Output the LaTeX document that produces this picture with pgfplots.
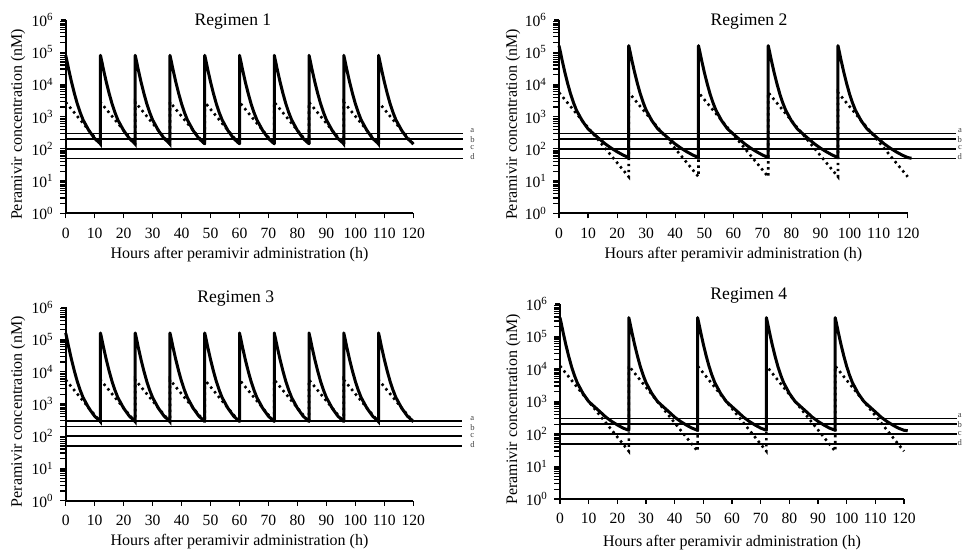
\documentclass[border=0pt]{standalone}
\usepackage{fontspec}
\setmainfont{Liberation Serif}
\usepackage{pgfplots}
\pgfplotsset{compat=1.18}

% 1 px of the reference = 0.5pt
\tikzset{
  conc/.style={black, line width=1.5pt, line join=round},
  lung/.style={black, line width=1.3pt, dash pattern=on 1.2pt off 1.8pt},
  thr/.style={black, line width=0.8pt},
  abcd/.style={font=\fontsize{4.3}{4.3}\selectfont, anchor=west, inner sep=0pt, text=black!75},
}

\begin{document}
\begin{tikzpicture}

% ---------------- Regimen 1 ----------------
\begin{axis}[scale only axis, anchor=south west, at={(32.85pt,168.85pt)}, width=173.8pt, height=96.65pt,
    ymode=log, xmin=0, xmax=120, ymin=1, ymax=1e6,
    axis lines*=left, axis line style={line width=1pt},
    xtick pos=left, ytick pos=left, clip=false, tick align=outside,
    major tick length=2.5pt,
    tick style={black, line width=0.6pt},
    xtick={0,10,...,120},
    ytick={1,10,100,1000,10000,100000,1000000},
    yticklabels={10\textsuperscript{0},10\textsuperscript{1},10\textsuperscript{2},10\textsuperscript{3},10\textsuperscript{4},10\textsuperscript{5},10\textsuperscript{6}},
    extra y ticks={2,3,4,5,6,7,8,9,20,30,40,50,60,70,80,90,200,300,400,500,600,700,800,900,2000,3000,4000,5000,6000,7000,8000,9000,20000,30000,40000,50000,60000,70000,80000,90000,200000,300000,400000,500000,600000,700000,800000,900000},
    extra y tick labels={},
    extra y tick style={major tick length=1.6pt, tick style={black, line width=0.5pt}},
    /pgf/number format/assume math mode=true,
    tick label style={font=\fontsize{7.8}{9}\selectfont},
    xticklabel style={yshift=-1.2pt},
    label style={font=\fontsize{8}{9.5}\selectfont},
    xlabel={Hours after peramivir administration (h)},
    ylabel={Peramivir concentration (nM)},
    xlabel style={at={(axis description cs:0.5,-0.212)}, anchor=center},
    ylabel style={at={(axis description cs:-0.137,0.46)}, anchor=center},
    title={Regimen 1}, every axis title shift=0pt,
    title style={font=\fontsize{8.8}{10}\selectfont, anchor=center, at={(axis description cs:0.481,1)}, yshift=-1pt}]
\addplot[thr] coordinates {(0,300)(137,300)};
\addplot[thr] coordinates {(0,200)(137,200)};
\addplot[thr] coordinates {(0,100)(137,100)};
\addplot[thr] coordinates {(0,50)(137,50)};
\addplot[lung] coordinates {
  (0,2810)(12,138)(12,2810)(24,138)(24,2810)(36,138)(36,2810)(48,138)(48,2810)(60,138)
  (60,2810)(72,138)(72,2810)(84,138)(84,2810)(96,138)(96,2810)(108,138)(108,2810)(120,138)};
\addplot[conc] coordinates {
  (0,80000)(0.5,50000)(1,30150)(2,12000)(3,5250)(4,2505)(5,1345)(6,793)(8,371)(10,209)(12,144)
  (12,80000)(12.5,50000)(13,30150)(14,12000)(15,5250)(16,2505)(17,1345)(18,793)(20,371)(22,209)(24,144)
  (24,80000)(24.5,50000)(25,30150)(26,12000)(27,5250)(28,2505)(29,1345)(30,793)(32,371)(34,209)(36,144)
  (36,80000)(36.5,50000)(37,30150)(38,12000)(39,5250)(40,2505)(41,1345)(42,793)(44,371)(46,209)(48,144)
  (48,80000)(48.5,50000)(49,30150)(50,12000)(51,5250)(52,2505)(53,1345)(54,793)(56,371)(58,209)(60,144)
  (60,80000)(60.5,50000)(61,30150)(62,12000)(63,5250)(64,2505)(65,1345)(66,793)(68,371)(70,209)(72,144)
  (72,80000)(72.5,50000)(73,30150)(74,12000)(75,5250)(76,2505)(77,1345)(78,793)(80,371)(82,209)(84,144)
  (84,80000)(84.5,50000)(85,30150)(86,12000)(87,5250)(88,2505)(89,1345)(90,793)(92,371)(94,209)(96,144)
  (96,80000)(96.5,50000)(97,30150)(98,12000)(99,5250)(100,2505)(101,1345)(102,793)(104,371)(106,209)(108,144)
  (108,80000)(108.5,50000)(109,30150)(110,12000)(111,5250)(112,2505)(113,1345)(114,793)(116,371)(118,209)(120,144)};
\node[abcd] at (axis cs:139.6,360) {a};
\node[abcd] at (axis cs:139.6,190) {b};
\node[abcd] at (axis cs:139.6,107) {c};
\node[abcd] at (axis cs:139.6,56) {d};
\end{axis}

% ---------------- Regimen 2 ----------------
\begin{axis}[scale only axis, anchor=south west, at={(279.5pt,168.85pt)}, width=174.35pt, height=96.65pt,
    ymode=log, xmin=0, xmax=120, ymin=1, ymax=1e6,
    axis lines*=left, axis line style={line width=1pt},
    xtick pos=left, ytick pos=left, clip=false, tick align=outside,
    major tick length=2.5pt,
    tick style={black, line width=0.6pt},
    xtick={0,10,...,120},
    ytick={1,10,100,1000,10000,100000,1000000},
    yticklabels={10\textsuperscript{0},10\textsuperscript{1},10\textsuperscript{2},10\textsuperscript{3},10\textsuperscript{4},10\textsuperscript{5},10\textsuperscript{6}},
    extra y ticks={2,3,4,5,6,7,8,9,20,30,40,50,60,70,80,90,200,300,400,500,600,700,800,900,2000,3000,4000,5000,6000,7000,8000,9000,20000,30000,40000,50000,60000,70000,80000,90000,200000,300000,400000,500000,600000,700000,800000,900000},
    extra y tick labels={},
    extra y tick style={major tick length=1.6pt, tick style={black, line width=0.5pt}},
    /pgf/number format/assume math mode=true,
    tick label style={font=\fontsize{7.8}{9}\selectfont},
    xticklabel style={yshift=-1.2pt},
    label style={font=\fontsize{8}{9.5}\selectfont},
    xlabel={Hours after peramivir administration (h)},
    ylabel={Peramivir concentration (nM)},
    xlabel style={at={(axis description cs:0.5,-0.212)}, anchor=center},
    ylabel style={at={(axis description cs:-0.132,0.46)}, anchor=center},
    title={Regimen 2}, every axis title shift=0pt,
    title style={font=\fontsize{8.8}{10}\selectfont, anchor=center, at={(axis description cs:0.545,1)}, yshift=-1pt}]
\addplot[thr] coordinates {(0,300)(136.6,300)};
\addplot[thr] coordinates {(0,200)(136.6,200)};
\addplot[thr] coordinates {(0,100)(136.6,100)};
\addplot[thr] coordinates {(0,50)(136.6,50)};
\addplot[lung] coordinates {
  (0,5620)(24,13.6)(24,5620)(48,13.6)(48,5620)(72,13.6)(72,5620)(96,13.6)(96,5620)(120,13.6)};
\addplot[conc] coordinates {
  (0,160000)(0.5,100000)(1,60300)(2,24000)(3,10500)(4,5010)(5,2690)(6,1585)(8,741)(10,417)(12,288)(14,200)(16,141)(18,105)(20,81.3)(22,64.6)(24,53.7)
  (24,160000)(24.5,100000)(25,60300)(26,24000)(27,10500)(28,5010)(29,2690)(30,1585)(32,741)(34,417)(36,288)(38,200)(40,141)(42,105)(44,81.3)(46,64.6)(48,53.7)
  (48,160000)(48.5,100000)(49,60300)(50,24000)(51,10500)(52,5010)(53,2690)(54,1585)(56,741)(58,417)(60,288)(62,200)(64,141)(66,105)(68,81.3)(70,64.6)(72,53.7)
  (72,160000)(72.5,100000)(73,60300)(74,24000)(75,10500)(76,5010)(77,2690)(78,1585)(80,741)(82,417)(84,288)(86,200)(88,141)(90,105)(92,81.3)(94,64.6)(96,53.7)
  (96,160000)(96.5,100000)(97,60300)(98,24000)(99,10500)(100,5010)(101,2690)(102,1585)(104,741)(106,417)(108,288)(110,200)(112,141)(114,105)(116,81.3)(118,64.6)(120,53.7)(121.3,51)};
\node[abcd, anchor=east] at (axis cs:138.8,360) {a};
\node[abcd, anchor=east] at (axis cs:138.8,190) {b};
\node[abcd, anchor=east] at (axis cs:138.8,107) {c};
\node[abcd, anchor=east] at (axis cs:138.8,56) {d};
\end{axis}

% ---------------- Regimen 3 ----------------
\begin{axis}[scale only axis, anchor=south west, at={(32.85pt,25.15pt)}, width=173.8pt, height=96.7pt,
    ymode=log, xmin=0, xmax=120, ymin=1, ymax=1e6,
    axis lines*=left, axis line style={line width=1pt},
    xtick pos=left, ytick pos=left, clip=false, tick align=outside,
    major tick length=2.5pt,
    tick style={black, line width=0.6pt},
    xtick={0,10,...,120},
    ytick={1,10,100,1000,10000,100000,1000000},
    yticklabels={10\textsuperscript{0},10\textsuperscript{1},10\textsuperscript{2},10\textsuperscript{3},10\textsuperscript{4},10\textsuperscript{5},10\textsuperscript{6}},
    extra y ticks={2,3,4,5,6,7,8,9,20,30,40,50,60,70,80,90,200,300,400,500,600,700,800,900,2000,3000,4000,5000,6000,7000,8000,9000,20000,30000,40000,50000,60000,70000,80000,90000,200000,300000,400000,500000,600000,700000,800000,900000},
    extra y tick labels={},
    extra y tick style={major tick length=1.6pt, tick style={black, line width=0.5pt}},
    /pgf/number format/assume math mode=true,
    tick label style={font=\fontsize{7.8}{9}\selectfont},
    xticklabel style={yshift=-1.2pt},
    label style={font=\fontsize{8}{9.5}\selectfont},
    xlabel={Hours after peramivir administration (h)},
    ylabel={Peramivir concentration (nM)},
    xlabel style={at={(axis description cs:0.5,-0.212)}, anchor=center},
    ylabel style={at={(axis description cs:-0.137,0.46)}, anchor=center},
    title={Regimen 3}, every axis title shift=0pt,
    title style={font=\fontsize{8.8}{10}\selectfont, anchor=center, at={(axis description cs:0.489,1)}, yshift=4.6pt}]
\addplot[thr] coordinates {(0,300)(136.7,300)};
\addplot[thr] coordinates {(0,200)(136.7,200)};
\addplot[thr] coordinates {(0,100)(136.7,100)};
\addplot[thr] coordinates {(0,50)(136.7,50)};
\addplot[lung] coordinates {
  (0,5620)(12,277)(12,5620)(24,277)(24,5620)(36,277)(36,5620)(48,277)(48,5620)(60,277)
  (60,5620)(72,277)(72,5620)(84,277)(84,5620)(96,277)(96,5620)(108,277)(108,5620)(120,277)};
\addplot[conc] coordinates {
  (0,160000)(0.5,100000)(1,60300)(2,24000)(3,10500)(4,5010)(5,2690)(6,1585)(8,741)(10,417)(12,288)
  (12,160000)(12.5,100000)(13,60300)(14,24000)(15,10500)(16,5010)(17,2690)(18,1585)(20,741)(22,417)(24,288)
  (24,160000)(24.5,100000)(25,60300)(26,24000)(27,10500)(28,5010)(29,2690)(30,1585)(32,741)(34,417)(36,288)
  (36,160000)(36.5,100000)(37,60300)(38,24000)(39,10500)(40,5010)(41,2690)(42,1585)(44,741)(46,417)(48,288)
  (48,160000)(48.5,100000)(49,60300)(50,24000)(51,10500)(52,5010)(53,2690)(54,1585)(56,741)(58,417)(60,288)
  (60,160000)(60.5,100000)(61,60300)(62,24000)(63,10500)(64,5010)(65,2690)(66,1585)(68,741)(70,417)(72,288)
  (72,160000)(72.5,100000)(73,60300)(74,24000)(75,10500)(76,5010)(77,2690)(78,1585)(80,741)(82,417)(84,288)
  (84,160000)(84.5,100000)(85,60300)(86,24000)(87,10500)(88,5010)(89,2690)(90,1585)(92,741)(94,417)(96,288)
  (96,160000)(96.5,100000)(97,60300)(98,24000)(99,10500)(100,5010)(101,2690)(102,1585)(104,741)(106,417)(108,288)
  (108,160000)(108.5,100000)(109,60300)(110,24000)(111,10500)(112,5010)(113,2690)(114,1585)(116,741)(118,417)(120,288)};
\node[abcd] at (axis cs:139.6,360) {a};
\node[abcd] at (axis cs:139.6,190) {b};
\node[abcd] at (axis cs:139.6,107) {c};
\node[abcd] at (axis cs:139.6,56) {d};
\end{axis}

% ---------------- Regimen 4 ----------------
\begin{axis}[scale only axis, anchor=south west, at={(280pt,26pt)}, width=172pt, height=97.5pt,
    ymode=log, xmin=0, xmax=120, ymin=1, ymax=1e6,
    axis lines*=left, axis line style={line width=1pt},
    xtick pos=left, ytick pos=left, clip=false, tick align=outside,
    major tick length=2.5pt,
    tick style={black, line width=0.6pt},
    xtick={0,10,...,120},
    ytick={1,10,100,1000,10000,100000,1000000},
    yticklabels={10\textsuperscript{0},10\textsuperscript{1},10\textsuperscript{2},10\textsuperscript{3},10\textsuperscript{4},10\textsuperscript{5},10\textsuperscript{6}},
    extra y ticks={2,3,4,5,6,7,8,9,20,30,40,50,60,70,80,90,200,300,400,500,600,700,800,900,2000,3000,4000,5000,6000,7000,8000,9000,20000,30000,40000,50000,60000,70000,80000,90000,200000,300000,400000,500000,600000,700000,800000,900000},
    extra y tick labels={},
    extra y tick style={major tick length=1.6pt, tick style={black, line width=0.5pt}},
    /pgf/number format/assume math mode=true,
    tick label style={font=\fontsize{7.8}{9}\selectfont},
    xticklabel style={yshift=-1.2pt},
    label style={font=\fontsize{8}{9.5}\selectfont},
    xlabel={Hours after peramivir administration (h)},
    ylabel={Peramivir concentration (nM)},
    xlabel style={at={(axis description cs:0.5,-0.222)}, anchor=center},
    ylabel style={at={(axis description cs:-0.136,0.46)}, anchor=center},
    title={Regimen 4}, every axis title shift=0pt,
    title style={font=\fontsize{8.8}{10}\selectfont, anchor=center, at={(axis description cs:0.549,1)}, yshift=4.2pt}]
\addplot[thr] coordinates {(0,300)(138.5,300)};
\addplot[thr] coordinates {(0,200)(138.5,200)};
\addplot[thr] coordinates {(0,100)(138.5,100)};
\addplot[thr] coordinates {(0,50)(138.5,50)};
\addplot[lung] coordinates {
  (0,12400)(24,29.5)(24,12400)(48,29.5)(48,12400)(72,29.5)(72,12400)(96,29.5)(96,12400)(120,29.5)};
\addplot[conc] coordinates {
  (0,380000)(0.5,240000)(1,145000)(2,57600)(3,25200)(4,12000)(5,6460)(6,3800)(8,1780)(10,1000)(12,691)(14,480)(16,330)(18,245)(20,190)(22,152)(24,130)
  (24,380000)(24.5,240000)(25,145000)(26,57600)(27,25200)(28,12000)(29,6460)(30,3800)(32,1780)(34,1000)(36,691)(38,480)(40,330)(42,245)(44,190)(46,152)(48,130)
  (48,380000)(48.5,240000)(49,145000)(50,57600)(51,25200)(52,12000)(53,6460)(54,3800)(56,1780)(58,1000)(60,691)(62,480)(64,330)(66,245)(68,190)(70,152)(72,130)
  (72,380000)(72.5,240000)(73,145000)(74,57600)(75,25200)(76,12000)(77,6460)(78,3800)(80,1780)(82,1000)(84,691)(86,480)(88,330)(90,245)(92,190)(94,152)(96,130)
  (96,380000)(96.5,240000)(97,145000)(98,57600)(99,25200)(100,12000)(101,6460)(102,3800)(104,1780)(106,1000)(108,691)(110,480)(112,330)(114,245)(116,190)(118,152)(120,130)(121.3,126)};
\node[abcd, anchor=east] at (axis cs:140.3,360) {a};
\node[abcd, anchor=east] at (axis cs:140.3,190) {b};
\node[abcd, anchor=east] at (axis cs:140.3,107) {c};
\node[abcd, anchor=east] at (axis cs:140.3,56) {d};
\end{axis}

\pgfresetboundingbox
\path[use as bounding box] (0pt,0pt) rectangle (481.5pt,275.5pt);
\end{tikzpicture}
\end{document}
